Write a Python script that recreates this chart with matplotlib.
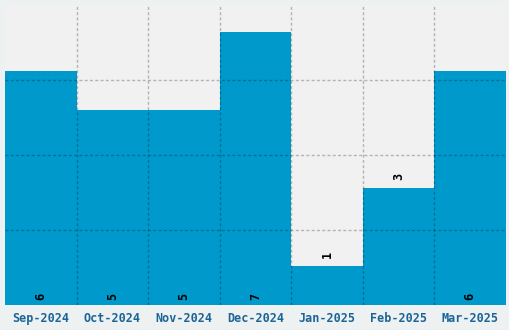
import matplotlib
matplotlib.use('Agg')
import matplotlib.pyplot as plt
import numpy as np

# monthly counts
months = ['Sep-2024', 'Oct-2024', 'Nov-2024', 'Dec-2024', 'Jan-2025', 'Feb-2025', 'Mar-2025']
counts = [6, 5, 5, 7, 1, 3, 6]

plt.rcParams['font.family'] = 'DejaVu Sans Mono'

fig = plt.figure(figsize=(5.1, 3.3), dpi=100, facecolor='#eef1f2')
ax = fig.add_axes([5/510, 25.3/330, 501/510, 299.7/330])
ax.set_facecolor('#f1f1f1')

x = np.arange(len(months))
ax.bar(x, counts, width=1.0, color='#0099cc', zorder=2)

ymax = max(counts) * 1.1
ax.set_xlim(-0.5, len(months) - 0.5)
ax.set_ylim(0, ymax)

# grid: bar boundaries and quarter heights, drawn over the bars
gstyle = dict(color=(0, 0, 0, 0.25), lw=1, ls=(0, (2.2, 1.6)), zorder=3)
for b in np.arange(0.5, len(months) - 0.5):
    ax.axvline(b, **gstyle)
for q in [0.25, 0.5, 0.75]:
    ax.axhline(ymax * q, **gstyle)

# value labels
for xi, v in zip(x, counts):
    y = 0.22 if v >= 4 else v + 0.29
    ax.text(xi, y, str(v), rotation=90, ha='center', va='center',
            fontsize=8.5, fontweight='bold', color='black', zorder=4)

ax.set_xticks(x)
ax.set_xticklabels(months, fontsize=8.5, fontweight='bold', color='#1a6496')
ax.tick_params(axis='x', length=0, pad=5)
ax.set_yticks([])
for s in ax.spines.values():
    s.set_visible(False)

plt.savefig('out.png', dpi=100, facecolor=fig.get_facecolor())
